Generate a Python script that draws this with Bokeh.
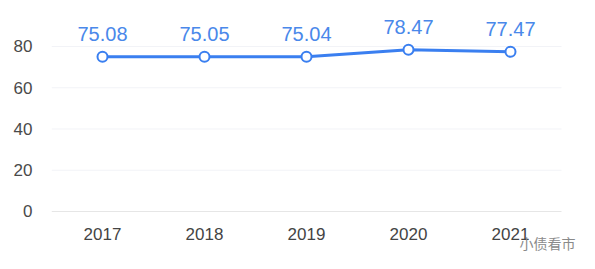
from bokeh.plotting import figure
from bokeh.models import ColumnDataSource, Range1d, FixedTicker
from bokeh.core.properties import value
from bokeh.embed import file_html
from bokeh.resources import INLINE

years = ["2017", "2018", "2019", "2020", "2021"]
values = [75.08, 75.05, 75.04, 78.47, 77.47]
labels = ["75.08", "75.05", "75.04", "78.47", "77.47"]
y_ticks = [0, 20, 40, 60, 80]
watermark = "小债看市"

FONT = "Liberation Sans"
BLUE = "#3a7ff0"

n = len(years)
xs = [i + 0.5 for i in range(n)]  # category centres

src = ColumnDataSource(dict(x=xs, y=values, t=labels))
base = ColumnDataSource(dict(x=xs, y=[0] * n, t=years))
grid = ColumnDataSource(dict(x0=[0] * (len(y_ticks) - 1), x1=[n] * (len(y_ticks) - 1), y=y_ticks[1:]))
zero = ColumnDataSource(dict(x0=[0], x1=[n], y=y_ticks[:1]))
wm_src = ColumnDataSource(dict(x=xs[-1:], y=[0], t=[watermark]))

p = figure(x_range=Range1d(0, n * 544 / 510), y_range=Range1d(-28.12, 97.45),
           frame_width=544, frame_height=259,
           output_backend="svg", toolbar_location=None,
           min_border_left=51, min_border_right=0, min_border_top=10, min_border_bottom=0)
p.outline_line_color = None
p.background_fill_color = "white"
p.xaxis.visible = False
p.xgrid.grid_line_color = None
p.ygrid.grid_line_color = None

p.segment("x0", "y", "x1", "y", source=grid, line_color="#f2f3f7", line_width=1)
p.segment("x0", "y", "x1", "y", source=zero, line_color="#e6e6e6", line_width=1)

p.line("x", "y", source=src, line_color=BLUE, line_width=3)
p.scatter("x", "y", source=src, size=10, fill_color="white", line_color=BLUE, line_width=2)
p.text("x", "y", text="t", source=src, text_align="center", text_baseline="alphabetic",
       y_offset=-23, text_font=value(FONT), text_font_size="20px", text_color="#4a88ea")

# category labels under the baseline
p.text("x", "y", text="t", source=base, text_align="center", text_baseline="middle",
       y_offset=23, text_font=value(FONT), text_font_size="17px", text_color="#444444")

# watermark
p.text("x", "y", text="t", source=wm_src, text_align="right", text_baseline="middle",
       x_offset=65, y_offset=32, text_font=value("Noto Sans CJK SC"), text_font_size="14px",
       text_color="#8a8a8a")

p.yaxis.ticker = FixedTicker(ticks=y_ticks)
p.yaxis.axis_line_color = None
p.yaxis.major_tick_line_color = None
p.yaxis.minor_tick_line_color = None
p.yaxis.major_label_standoff = 13
p.yaxis.major_label_text_font = FONT
p.yaxis.major_label_text_font_size = "17px"
p.yaxis.major_label_text_color = "#4a4a4a"

open("out.html", "w").write(file_html(p, INLINE))
